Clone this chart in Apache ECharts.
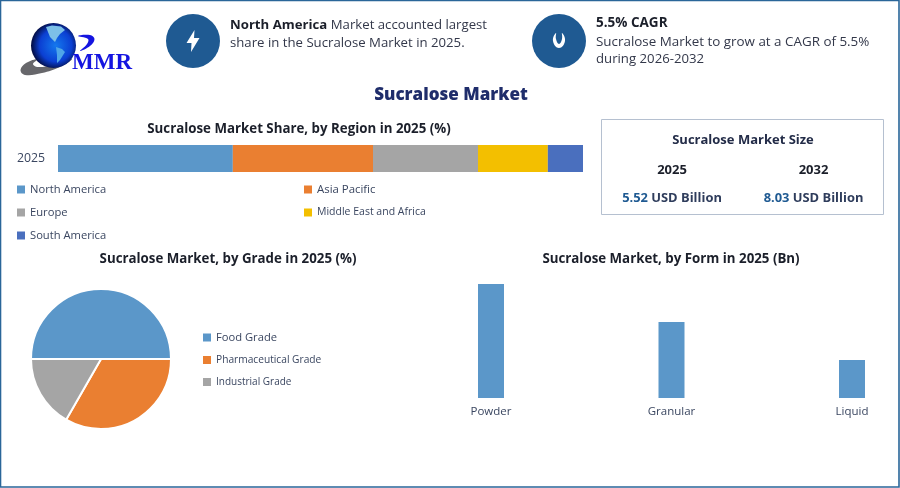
<!DOCTYPE html>
<html>
<head>
<meta charset="utf-8">
<title>Sucralose Market</title>
<script src="https://cdn.jsdelivr.net/npm/echarts@6/dist/echarts.min.js"></script>
<style>
  html, body { margin: 0; padding: 0; background: #fff; }
  #chart { width: 900px; height: 488px; }
</style>
</head>
<body>
<div id="chart"></div>
<script>
// --- data ---
var regionNames = ['North America', 'Asia Pacific', 'Europe', 'Middle East and Africa', 'South America'];
var regionShares = [33.3, 26.7, 20, 13.3, 6.7];
var regionYears = ['2025'];
var gradeNames = ['Food Grade', 'Pharmaceutical Grade', 'Industrial Grade'];
var gradeShares = [50, 33.3, 16.7];
var formNames = ['Powder', 'Granular', 'Liquid'];
var formValues = [3, 2, 1];
var sizeYears = ['2025', '2032'];
var sizeValues = ['5.52', '8.03'];

var blue = '#5b97c9', orange = '#ea7f31', grey = '#a5a5a5', gold = '#f3bf00', indigo = '#4a6fbe';
var regionColors = [blue, orange, grey, gold, indigo];
var gradeColors = [blue, orange, grey];
var navy = '#1f5a92';
var ink = '#1b1f2a';
var slate = '#3a4660';
var font = '"Open Sans", sans-serif';

function chartTitle(text, x, y) {
  return {
    text: text, left: x, top: y, textAlign: 'center', padding: 0,
    textStyle: { fontFamily: font, fontSize: 13.3, fontWeight: 700, color: ink }
  };
}

// sizes differ per entry because the reference squeezes the longer labels
function legendBlock(names, sizes, x, y, gap) {
  return {
    orient: 'vertical', left: x, top: y, padding: 0,
    data: names.map(function(name, i) {
      return { name: name, textStyle: { fontFamily: font, fontSize: sizes[i], color: slate } };
    }),
    icon: 'rect', itemWidth: 8, itemHeight: 8, itemGap: gap, selectedMode: false,
    itemStyle: { borderWidth: 0 }
  };
}

function label(text, x, y, size, weight, color, align) {
  return {
    type: 'text', x: x, y: y,
    style: {
      text: text, fontFamily: font, fontSize: size, fontWeight: weight, fill: color,
      align: align || 'left', verticalAlign: 'middle'
    }
  };
}

var graphics = [
  // frame
  { type: 'rect', shape: { x: 0.5, y: 0.5, width: 898.5, height: 486.5 }, style: { fill: 'none', stroke: '#2a6699', lineWidth: 1.6 } },

  // logo
  { type: 'polygon', shape: { smooth: 0.4, points: [[38, 59], [26, 63], [20.5, 70], [25, 75], [42, 73], [60, 67], [72, 59], [52, 65], [38, 67], [33, 64]] },
    style: { fill: '#67676b' } },
  { type: 'circle', shape: { cx: 53.5, cy: 45.5, r: 22.5 },
    style: { fill: new echarts.graphic.RadialGradient(0.55, 0.5, 0.55, [
      { offset: 0, color: '#1478ee' }, { offset: 0.65, color: '#0b3fd2' }, { offset: 1, color: '#020a3c' }
    ]) } },
  { type: 'polygon', shape: { points: [[46, 27], [52, 25.5], [61, 26.5], [65, 30], [60, 34], [57, 38], [55, 42], [50, 37]] },
    style: { fill: '#7cc0e8' } },
  { type: 'polygon', shape: { points: [[56, 47], [62, 49], [65, 52], [60, 60], [57, 63], [57, 55]] },
    style: { fill: '#4fa6e8' } },
  { type: 'polygon', shape: { smooth: 0.4, points: [[78, 36], [90, 35], [94.5, 39], [90, 46], [80, 51], [87, 44], [88, 39]] },
    style: { fill: '#1414e0' } },
  { type: 'text', x: 72, y: 63, style: { text: 'MMR', fontFamily: '"Liberation Serif", serif', fontWeight: 700, fontSize: 23, fill: '#1414e0', align: 'left', verticalAlign: 'middle' } },

  // callout icons
  { type: 'circle', shape: { cx: 193, cy: 41, r: 27 }, style: { fill: navy } },
  { type: 'polygon', shape: { points: [[194.5, 30], [186.5, 43], [191.5, 43], [191, 52], [199.5, 38], [194, 38]] }, style: { fill: '#fff' } },
  { type: 'circle', shape: { cx: 559, cy: 41, r: 27 }, style: { fill: navy } },
  { type: 'polygon', shape: { smooth: 0.5, points: [[556, 33], [553, 41], [559, 48], [565, 41], [562, 33], [562, 39], [559, 44], [556, 39]] },
    style: { fill: '#fff' } },

  // callout text
  {
    type: 'text', x: 230, y: 25,
    style: {
      text: '{b|North America} Market accounted largest', fontFamily: font, fontSize: 13.2, fill: '#33384a', verticalAlign: 'middle',
      rich: { b: { fontFamily: font, fontSize: 13.2, fontWeight: 700, fill: ink } }
    }
  },
  label('share in the Sucralose Market in 2025.', 230, 43, 13.2, 400, '#33384a'),
  label('5.5% CAGR', 596, 23, 13.5, 700, ink),
  label('Sucralose Market to grow at a CAGR of 5.5%', 596, 42, 13.4, 400, '#33384a'),
  label('during 2026-2032', 596, 59, 13.2, 400, '#33384a'),

  // market size box
  { type: 'rect', shape: { x: 601.5, y: 119.5, width: 282, height: 95 }, style: { fill: '#fff', stroke: '#b5c0d0', lineWidth: 1 } },
  label('Sucralose Market Size', 743, 140, 13, 700, '#232c48', 'center')
];

var sizeCenters = [672, 813.5];
sizeYears.forEach(function(year, i) {
  graphics.push(label(year, sizeCenters[i], 170, 13, 700, ink, 'center'));
  graphics.push({
    type: 'text', x: sizeCenters[i], y: 198,
    style: {
      text: '{v|' + sizeValues[i] + '} USD Billion', fontFamily: font, fontSize: 12.9, fontWeight: 700, fill: '#2f3d5c',
      align: 'center', verticalAlign: 'middle',
      rich: { v: { fontFamily: font, fontSize: 12.9, fontWeight: 700, fill: navy } }
    }
  });
});

var chart = echarts.init(document.getElementById('chart'), null, { renderer: 'canvas' });
chart.setOption({
  animation: false,
  color: regionColors,
  title: [
    { text: 'Sucralose Market', left: 451, top: 87, padding: 0, textAlign: 'center', textStyle: { fontFamily: font, fontSize: 17, fontWeight: 800, color: '#1f2d6b' } },
    chartTitle('Sucralose Market Share, by Region in 2025 (%)', 299, 123),
    chartTitle('Sucralose Market, by Grade in 2025 (%)', 228, 253),
    chartTitle('Sucralose Market, by Form in 2025 (Bn)', 671, 253)
  ],
  legend: [
    legendBlock([regionNames[0], regionNames[2], regionNames[4]], [11.2, 11.2, 11.2], 17, 184, 12),
    legendBlock([regionNames[1], regionNames[3]], [11.4, 10.5], 304, 184, 12),
    legendBlock(gradeNames, [11.2, 10.2, 10], 203, 332, 12)
  ],
  grid: [
    { left: 58, top: 145, width: 525, height: 27 },
    { left: 491, top: 284, width: 361, height: 114 }
  ],
  xAxis: [
    { gridIndex: 0, type: 'value', min: 0, max: 100, show: false },
    {
      gridIndex: 1, type: 'category', data: formNames, boundaryGap: false,
      axisLine: { show: false }, axisTick: { show: false },
      axisLabel: { fontFamily: font, fontSize: 11.5, color: slate, margin: 8, showMinLabel: true, showMaxLabel: true }
    }
  ],
  yAxis: [
    {
      gridIndex: 0, type: 'category', data: regionYears,
      axisLine: { show: false }, axisTick: { show: false },
      axisLabel: { fontFamily: font, fontSize: 12.3, color: slate, margin: 13 }
    },
    { gridIndex: 1, type: 'value', min: 0, max: 3, show: false }
  ],
  series: regionNames.map(function(name, i) {
    return {
      name: name, type: 'bar', stack: 'region', xAxisIndex: 0, yAxisIndex: 0,
      barWidth: 27, data: [regionShares[i]], itemStyle: { color: regionColors[i] }
    };
  }).concat([
    {
      type: 'bar', xAxisIndex: 1, yAxisIndex: 1, barWidth: 26, clip: false,
      data: formValues, itemStyle: { color: blue }
    },
    {
      type: 'pie', center: [101, 359], radius: 70, startAngle: 180, clockwise: true,
      label: { show: false }, labelLine: { show: false }, silent: true,
      itemStyle: { borderColor: '#fff', borderWidth: 2 },
      data: gradeNames.map(function(name, i) {
        return { name: name, value: gradeShares[i], itemStyle: { color: gradeColors[i] } };
      })
    }
  ]),
  graphic: graphics
});
window.addEventListener('resize', function() { chart.resize(); });
</script>
</body>
</html>
